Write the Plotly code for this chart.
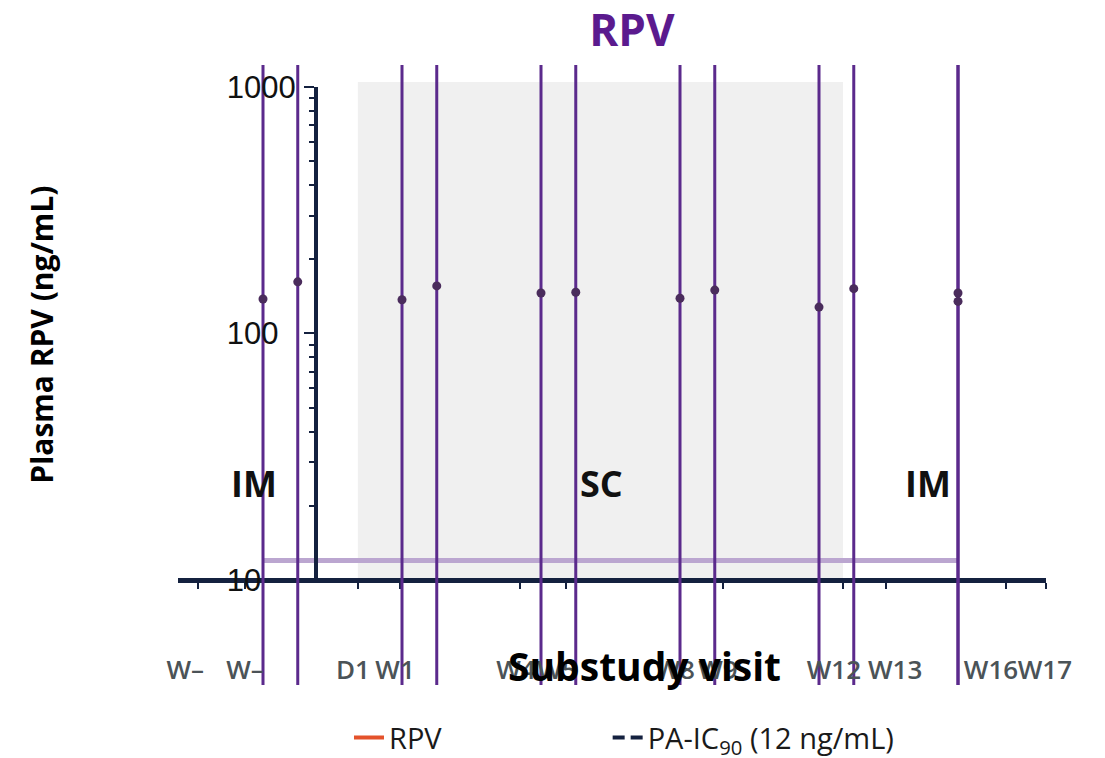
import math
import plotly.graph_objects as go

# Plasma rilpivirine concentrations by substudy visit (weeks relative to D1)
visit_weeks = [-4, -3, 0, 1, 4, 5, 8, 9, 12, 13, 16, 16]
rpv_conc = [138, 162, 137, 156, 146, 147, 139, 150, 128, 152, 146, 135]
ci_low = [2, 2, 2, 2, 2, 2, 2, 2, 2, 2, 2, 2]
ci_high = [3000, 3000, 3000, 3000, 3000, 3000, 3000, 3000, 3000, 3000, 3000, 3000]

# Protein-adjusted IC90
pa_ic90 = 12

# Axis ticks and visit labels (week positions)
tick_marks = [-5.87, -4.52, -1.27, -0.06, 3.40, 4.72, 8.0, 9.24, 12.69, 13.93, 17.38, 18.53]
label_pos = [-6.24, -4.52, -1.41, -0.20, 3.28, 4.46, 7.86, 9.09, 12.43, 14.19, 16.95, 18.50]
label_text = ["W–", "W–", "D1", "W1", "W4", "W5", "W8", "W9", "W12", "W13", "W16", "W17"]
y_ticks = [10, 100, 1000]
y_minor = [20, 30, 40, 50, 60, 70, 80, 90, 200, 300, 400, 500, 600, 700, 800, 900]

# Dosing phases
sc_start, sc_end, sc_top = -1.27, 12.69, 1048
phases = [("IM", -4.26), ("SC", 5.73), ("IM", 15.14)]
phase_label_y = 24.7

x_range = [-6.446, 18.532]
y_data_range = [0.574, 3.0893]

NAVY = "#14213f"
PURPLE = "#5b2a8c"
FONT = "Open Sans"

fig = go.Figure()

# IC90 reference line
fig.add_trace(go.Scatter(
    x=[visit_weeks[0], visit_weeks[-1]], y=[pa_ic90, pa_ic90],
    mode="lines", line=dict(color="#bba6d0", width=5),
    showlegend=False, hoverinfo="skip", xaxis="x", yaxis="y",
))

# Concentrations with interval bars
fig.add_trace(go.Scatter(
    x=visit_weeks, y=rpv_conc, mode="markers",
    marker=dict(color="#4a2c5c", size=9),
    error_y=dict(
        type="data", symmetric=False,
        array=[h - v for h, v in zip(ci_high, rpv_conc)],
        arrayminus=[v - l for v, l in zip(rpv_conc, ci_low)],
        color=PURPLE, thickness=3, width=0,
    ),
    showlegend=False, xaxis="x", yaxis="y",
))

# Placeholders that anchor the auxiliary axes
fig.add_trace(go.Scatter(x=[None], y=[None], xaxis="x", yaxis="y2",
                         showlegend=False, hoverinfo="skip"))
fig.add_trace(go.Scatter(x=[None], y=[None], xaxis="x", yaxis="y3",
                         showlegend=False, hoverinfo="skip"))
fig.add_trace(go.Scatter(x=[None], y=[None], xaxis="x2", yaxis="y",
                         showlegend=False, hoverinfo="skip"))

# Legend entries
fig.add_trace(go.Scatter(x=[None], y=[None], mode="lines", name="RPV",
                         line=dict(color="#e4522b", width=4), legend="legend"))
fig.add_trace(go.Scatter(x=[None], y=[None], mode="lines",
                         name="PA-IC<sub>90</sub> (12 ng/mL)",
                         line=dict(color=NAVY, width=4, dash="12px,6px"), legend="legend2"))

# SC dosing window
fig.add_shape(type="rect", xref="x", yref="y", x0=sc_start, x1=sc_end,
              y0=10, y1=sc_top, fillcolor="#f0f0f0", line_width=0, layer="below")

annotations = []
for txt, xpos in phases:
    annotations.append(dict(x=xpos, y=math.log10(phase_label_y), xref="x", yref="y",
                            text=f"<b>{txt}</b>", showarrow=False,
                            font=dict(family=FONT, size=36, color="#111111")))
annotations.append(dict(x=0.537, y=0.032, xref="paper", yref="paper", yanchor="middle",
                        text="<b>Substudy visit</b>", showarrow=False,
                        font=dict(family=FONT, size=39, color="#000000")))
annotations.append(dict(x=-0.1567, y=0.565, xref="paper", yref="paper", xanchor="center",
                        yanchor="middle", text="<b>Plasma RPV (ng/mL)</b>", textangle=-90,
                        showarrow=False, font=dict(family=FONT, size=30, color="#000000")))

legend_font = dict(family=FONT, size=29, color="#1a1a1a")

fig.update_layout(
    width=1105, height=758,
    margin=dict(l=178, r=59, t=65, b=73, autoexpand=False),
    paper_bgcolor="white", plot_bgcolor="rgba(0,0,0,0)",
    title=dict(text="<b>RPV</b>", x=0.523, xref="paper", y=0.960, yanchor="middle",
               xanchor="center", font=dict(family=FONT, size=44, color="#5b1a8e")),
    xaxis=dict(
        range=x_range, domain=[0, 1], anchor="free", position=0.1694,
        showline=True, linewidth=5, linecolor=NAVY, layer="below traces",
        ticks="outside", tickvals=tick_marks, ticklen=6, tickwidth=2, tickcolor=NAVY,
        showticklabels=False, showgrid=False, zeroline=False,
    ),
    xaxis2=dict(
        range=x_range, overlaying="x", anchor="free", position=0.1694,
        showline=False, ticks="", tickvals=label_pos, ticktext=label_text,
        tickangle=0, ticklabelstandoff=72, showgrid=False, zeroline=False,
        tickfont=dict(family=FONT, size=26, color="#4b5357", weight=600),
    ),
    yaxis=dict(
        type="log", range=y_data_range, domain=[0, 1], anchor="x",
        visible=False, showgrid=False, zeroline=False,
    ),
    yaxis2=dict(
        type="log", range=[1, 3], domain=[0.16935, 0.96452], anchor="free", position=0.159,
        showline=True, linewidth=4, linecolor=NAVY,
        ticks="outside", tickvals=y_ticks, ticklen=10, tickwidth=2, tickcolor=NAVY,
        minor=dict(ticks="outside", tickvals=y_minor, ticklen=5, tickwidth=2, tickcolor=NAVY),
        showticklabels=False, showgrid=False, zeroline=False,
    ),
    yaxis3=dict(
        type="log", range=[1, 3], overlaying="y2", anchor="free", position=0.055,
        side="right", showline=False, ticks="", tickvals=y_ticks,
        ticktext=[str(v) for v in y_ticks], showgrid=False, zeroline=False,
        tickfont=dict(family="Liberation Sans", size=31, color="#111111"),
    ),
    legend=dict(orientation="h", x=0.197, xanchor="left", y=-0.085, yanchor="middle",
                font=legend_font),
    legend2=dict(orientation="h", x=0.495, xanchor="left", y=-0.085, yanchor="middle",
                 font=legend_font),
    annotations=annotations,
)

fig.write_html("out.html")
